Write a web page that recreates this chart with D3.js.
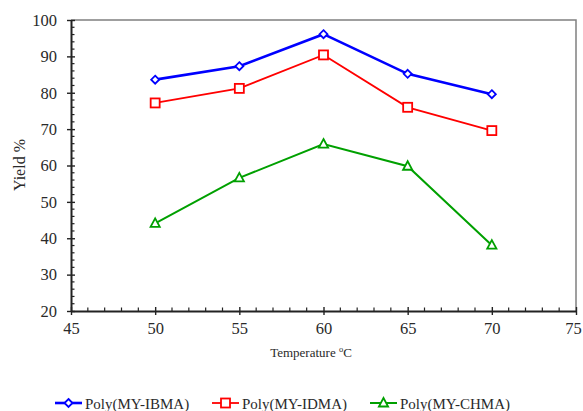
<!DOCTYPE html>
<html>
<head>
<meta charset="utf-8">
<script src="https://cdn.jsdelivr.net/npm/d3@7"></script>
<style>
  body { margin: 0; background: #fff; }
  svg text { font-family: "Liberation Serif", "Times New Roman", serif !important; fill: #2a2a2a; }
</style>
</head>
<body>
<div id="chart"></div>
<script>
// data
var temps = [50, 55, 60, 65, 70]
var ibma = [83.6, 87.3, 96.1, 85.2, 79.6]
var idma = [77.2, 81.2, 90.4, 76.0, 69.6]
var chma = [44.1, 56.6, 65.9, 59.8, 38.1]
var xTicks = [45, 50, 55, 60, 65, 70, 75]
var yTicks = [20, 30, 40, 50, 60, 70, 80, 90, 100]

var series = [
    { name: "Poly(MY-IBMA)", values: ibma, color: "#0000ff", width: 2.6, shape: "diamond" },
    { name: "Poly(MY-IDMA)", values: idma, color: "#ff0000", width: 1.8, shape: "square" },
    { name: "Poly(MY-CHMA)", values: chma, color: "#00a000", width: 2, shape: "triangle" }
]

const W = 583, H = 411
const margin = { top: 20, left: 71, right: 7, bottom: 100 }

var svg = d3.select("#chart").append("svg")
    .attr("width", W).attr("height", H)

var x = d3.scaleLinear().domain([45, 75]).range([margin.left, W - margin.right])
var y = d3.scaleLinear().domain([20, 100]).range([H - margin.bottom, margin.top])

// top / right frame
svg.append("path")
    .attr("d", `M${x(45)},${y(100)}H${x(75)}V${y(20)}`)
    .attr("fill", "none").attr("stroke", "#808080").attr("stroke-width", 1.5)

// minor ticks
svg.append("g").selectAll("line")
    .data(d3.range(21, 100, 1).filter(d => d % 2 == 0 && d % 10 != 0))
    .enter().append("line")
    .attr("x1", x(45)).attr("x2", x(45) + 3.5)
    .attr("y1", d => y(d)).attr("y2", d => y(d))
    .attr("stroke", "#222").attr("stroke-width", 1.2)

svg.append("g").selectAll("line")
    .data(d3.range(46, 75, 1).filter(d => d % 5 != 0))
    .enter().append("line")
    .attr("x1", d => x(d)).attr("x2", d => x(d))
    .attr("y1", y(20)).attr("y2", y(20) - 3.5)
    .attr("stroke", "#222").attr("stroke-width", 1.2)

// axes
var yAxis = svg.append("g")
    .attr("transform", `translate(${x(45)},0)`)
    .call(d3.axisLeft(y).tickValues(yTicks).tickSizeInner(4).tickSizeOuter(0).tickPadding(10))
var xAxis = svg.append("g")
    .attr("transform", `translate(0,${y(20)})`)
    .call(d3.axisBottom(x).tickValues(xTicks).tickSizeInner(4).tickSizeOuter(0).tickPadding(7))

for (var ax of [xAxis, yAxis]) {
    ax.attr("font-family", null)
    ax.select(".domain").attr("stroke", "#222").attr("stroke-width", 2)
    ax.selectAll(".tick line").attr("stroke", "#222").attr("stroke-width", 1.4)
    ax.selectAll(".tick text").style("font-size", "16.5px")
}
// major ticks cross the axis
yAxis.selectAll(".tick line").attr("x2", 4).attr("x1", -4)
xAxis.selectAll(".tick line").attr("y1", -4).attr("y2", 4)
// last label sits right at the page edge
xAxis.selectAll(".tick text").filter(d => d == 75).attr("dx", -3)

// axis titles
var xt = svg.append("text")
    .attr("x", 311).attr("y", 357)
    .attr("text-anchor", "middle").style("font-size", "13px")
xt.append("tspan").text("Temperature ")
xt.append("tspan").style("font-size", "8.5px").attr("dy", -5).text("o")
xt.append("tspan").attr("dy", 5).text("C")

svg.append("text")
    .attr("transform", "translate(25,165) rotate(-90)")
    .attr("text-anchor", "middle").style("font-size", "16px")
    .text("Yield %")

function drawMarker(g, shape, color) {
    if (shape == "diamond") {
        g.append("path").attr("d", "M0,-4L4,0L0,4L-4,0Z")
            .attr("fill", "#fff").attr("stroke", color).attr("stroke-width", 1.8)
    } else if (shape == "square") {
        g.append("rect").attr("x", -4.5).attr("y", -4.5).attr("width", 9).attr("height", 9)
            .attr("fill", "#fff").attr("stroke", color).attr("stroke-width", 1.8)
    } else {
        g.append("path").attr("d", "M0,-5L4.6,3.5L-4.6,3.5Z")
            .attr("fill", "#fff").attr("stroke", color).attr("stroke-width", 1.8)
    }
}

var line = d3.line().x(d => x(d[0])).y(d => y(d[1]))

series.forEach(s => {
    var pts = temps.map((t, i) => [t, s.values[i]])
    svg.append("path")
        .attr("d", line(pts))
        .attr("fill", "none").attr("stroke", s.color).attr("stroke-width", s.width)
    pts.forEach(p => {
        var g = svg.append("g").attr("transform", `translate(${x(p[0])},${y(p[1])})`)
        drawMarker(g, s.shape, s.color)
    })
})

// legend
var legendX = [55, 212, 370]
series.forEach((s, i) => {
    var g = svg.append("g").attr("transform", `translate(${legendX[i]},403)`)
    g.append("line").attr("x1", 0).attr("x2", 27).attr("y1", 0).attr("y2", 0)
        .attr("stroke", s.color).attr("stroke-width", s.width)
    var m = g.append("g").attr("transform", "translate(13.5,0)")
    drawMarker(m, s.shape, s.color)
    g.append("text").attr("x", 30).attr("y", 5.5).style("font-size", "15px").text(s.name)
})
</script>
</body>
</html>
